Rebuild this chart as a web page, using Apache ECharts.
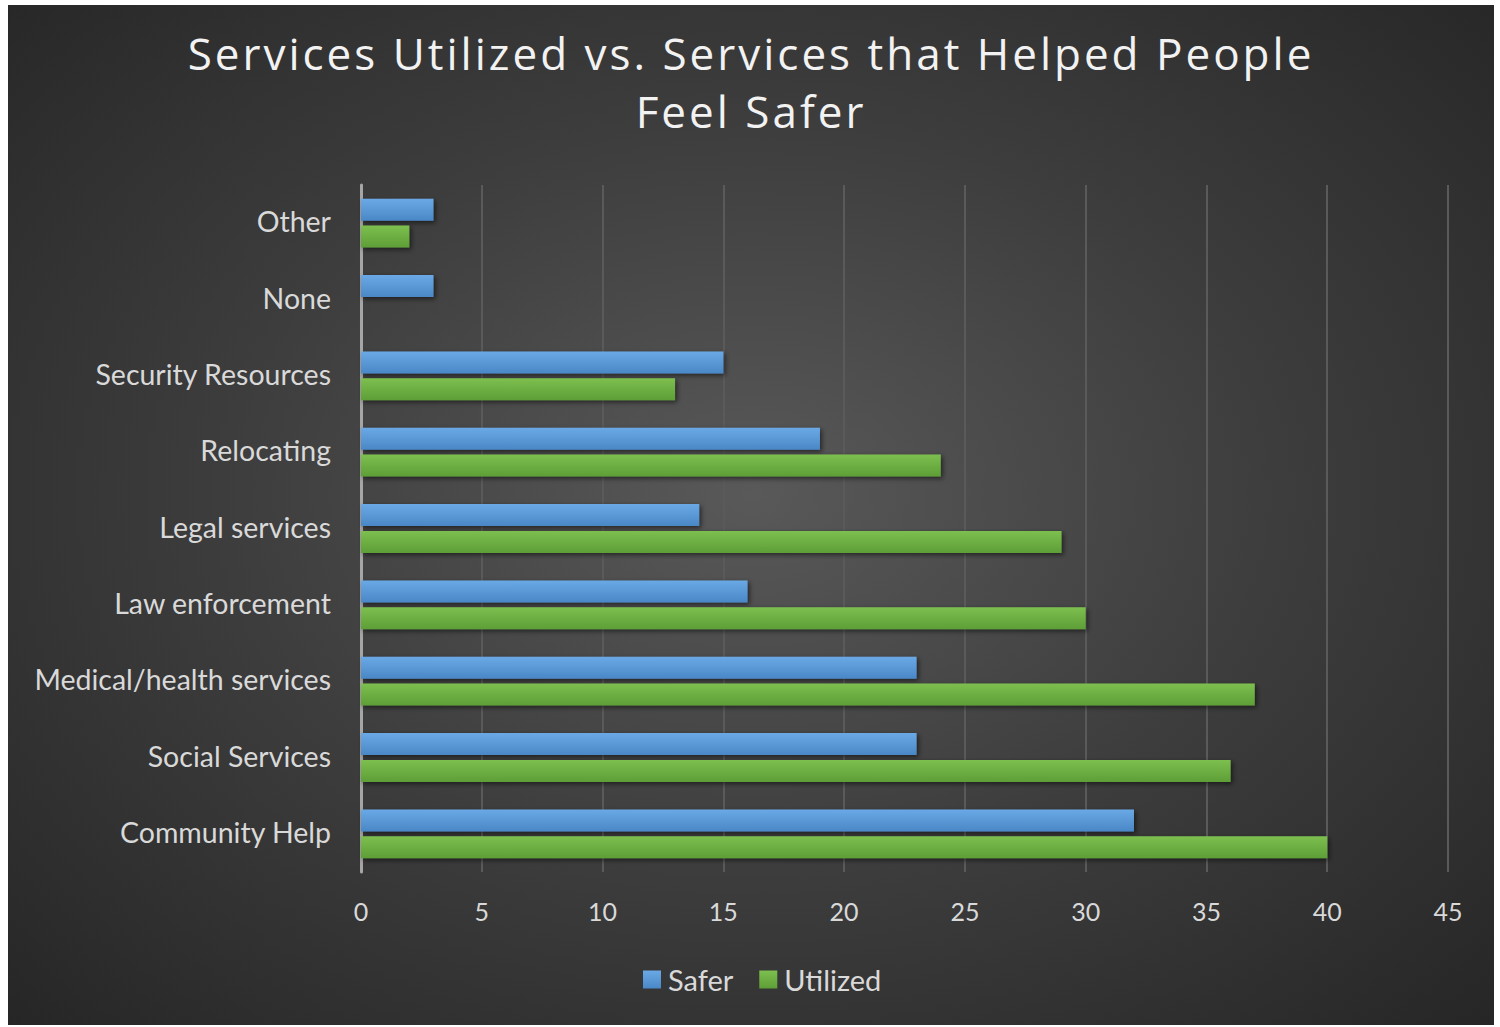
<!DOCTYPE html>
<html>
<head>
<meta charset="utf-8">
<script src="https://cdn.jsdelivr.net/npm/echarts@6/dist/echarts.min.js"></script>
<style>
  html, body { margin: 0; padding: 0; background: #fff; }
  .services-chart {
    position: absolute;
    left: 8px;
    top: 5px;
    width: 1486px;
    height: 1020px;
    background: radial-gradient(ellipse at 50% 48%, #595959 0%, #3d3d3d 50%, #262626 100%);
  }
</style>
</head>
<body>
<div class="services-chart"></div>
<script>
// bottom to top, as drawn
const categories = ['Community Help', 'Social Services', 'Medical/health services', 'Law enforcement',
  'Legal services', 'Relocating', 'Security Resources', 'None', 'Other']
const saferValues = [32, 23, 23, 16, 14, 19, 15, 3, 3]
const utilizedValues = [40, 36, 37, 30, 29, 24, 13, 0, 2]
const xTicks = { min: 0, max: 45, interval: 5 }

var myChart = echarts.init(document.querySelector('.services-chart'), null, { renderer: 'svg' })

function barColor(top, bottom) {
  return {
    type: 'linear', x: 0, y: 0, x2: 0, y2: 1,
    colorStops: [{ offset: 0, color: top }, { offset: 1, color: bottom }]
  }
}

const option = {
  animation: false,
  textStyle: { fontFamily: 'Lato' },
  title: {
    text: 'Services Utilized vs. Services that Helped People\nFeel Safer',
    left: 'center',
    top: 14,
    textStyle: {
      color: '#f2f2f2',
      fontSize: 44,
      fontWeight: 'normal',
      fontFamily: 'Open Sans',
      lineHeight: 58
    }
  },
  legend: {
    data: ['Safer', 'Utilized'],
    bottom: 26,
    left: 630,
    icon: 'rect',
    itemWidth: 18,
    itemHeight: 18,
    itemGap: 26,
    textStyle: { color: '#d9d9d9', fontSize: 29, fontFamily: 'Lato', padding: [0, 0, 0, 2] }
  },
  grid: {
    left: 353,
    right: 46,
    top: 180,
    bottom: 153
  },
  xAxis: {
    type: 'value',
    min: xTicks.min,
    max: xTicks.max,
    interval: xTicks.interval,
    axisLine: { show: false },
    axisTick: { show: false },
    axisLabel: { color: '#d9d9d9', fontSize: 25, margin: 26 },
    splitLine: { lineStyle: { color: '#5a5a5a', width: 2 } }
  },
  yAxis: {
    type: 'category',
    data: categories,
    axisLine: { lineStyle: { color: '#a6a6a6', width: 3 } },
    axisTick: { show: false },
    axisLabel: {
      margin: 30,
      formatter: function(v) { return '{c|' + v + '}' },
      rich: {
        c: { color: '#d9d9d9', fontSize: 28.5, fontFamily: 'Lato', padding: [0, 0, 4, 0] }
      }
    }
  },
  series: [
    {
      name: 'Safer',
      type: 'bar',
      data: saferValues,
      barWidth: 22,
      barGap: '22%',
      itemStyle: {
        color: barColor('#6aa9e6', '#4a87c6'),
        shadowColor: 'rgba(0,0,0,0.55)',
        shadowBlur: 5,
        shadowOffsetX: 2,
        shadowOffsetY: 2
      }
    },
    {
      name: 'Utilized',
      type: 'bar',
      data: utilizedValues,
      barWidth: 22,
      barGap: '22%',
      itemStyle: {
        color: barColor('#7dbf4f', '#5e9e37'),
        shadowColor: 'rgba(0,0,0,0.55)',
        shadowBlur: 5,
        shadowOffsetX: 2,
        shadowOffsetY: 2
      }
    }
  ]
}
myChart.setOption(option)

// title is spaced out in the original
function spaceTitle() {
  document.querySelectorAll('.services-chart text').forEach(function(t) {
    const s = t.textContent
    if (s.indexOf('Services Utilized') === 0 || s === 'Feel Safer') {
      t.setAttribute('letter-spacing', '3')
    }
  })
}
spaceTitle()
myChart.on('finished', spaceTitle)
</script>
</body>
</html>
